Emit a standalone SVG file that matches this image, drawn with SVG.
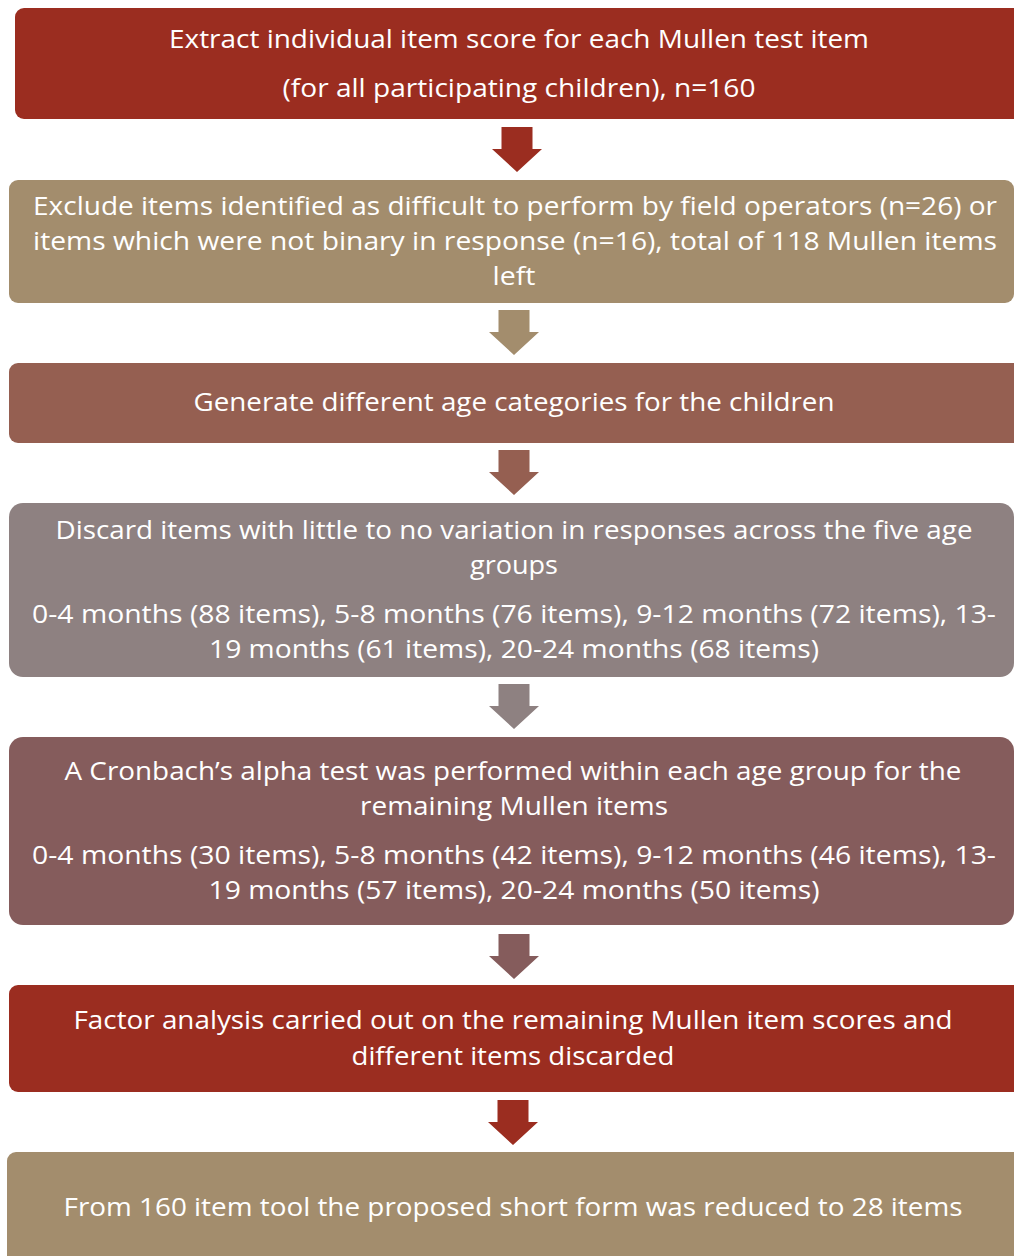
<svg xmlns="http://www.w3.org/2000/svg" width="1014" height="1256" viewBox="0 0 1014 1256">
<style>
.t{font-family:"Open Sans","Noto Sans",sans-serif;font-size:26px;fill:#ffffff;text-anchor:middle}
</style>
<defs>
<path id="arr" d="M-15.5,0 H15.5 V22 H25 L0,45 L-25,22 H-15.5 Z"/>
</defs>
<rect width="1014" height="1256" fill="#ffffff"/>
<g id="connectors">
<use href="#arr" x="517" y="127" fill="#9B2D20"/>
<use href="#arr" x="514" y="310" fill="#A38D6D"/>
<use href="#arr" x="514" y="450" fill="#955F51"/>
<use href="#arr" x="514" y="684" fill="#8E8181"/>
<use href="#arr" x="514" y="934" fill="#855C5C"/>
<use href="#arr" x="513" y="1100" fill="#9B2D20"/>
</g>
<g id="n1">
<rect x="15" y="8" width="1010" height="111" rx="9" fill="#9B2D20"/>
<text class="t" x="519" y="48" textLength="700" lengthAdjust="spacingAndGlyphs">Extract individual item score for each Mullen test item</text>
<text class="t" x="519" y="97" textLength="473" lengthAdjust="spacingAndGlyphs">(for all participating children), n=160</text>
</g>
<g id="n2">
<rect x="9" y="180" width="1005" height="123" rx="9" fill="#A38D6D"/>
<text class="t" x="515" y="215" textLength="964" lengthAdjust="spacingAndGlyphs">Exclude items identified as difficult to perform by field operators (n=26) or</text>
<text class="t" x="515" y="250" textLength="964" lengthAdjust="spacingAndGlyphs">items which were not binary in response (n=16), total of 118 Mullen items</text>
<text class="t" x="514" y="285" textLength="43" lengthAdjust="spacingAndGlyphs">left</text>
</g>
<g id="n3">
<rect x="9" y="363" width="1015" height="80" rx="9" fill="#955F51"/>
<text class="t" x="514" y="411" textLength="641" lengthAdjust="spacingAndGlyphs">Generate different age categories for the children</text>
</g>
<g id="n4">
<rect x="9" y="503" width="1005" height="174" rx="14" fill="#8E8181"/>
<text class="t" x="514" y="539" textLength="917" lengthAdjust="spacingAndGlyphs">Discard items with little to no variation in responses across the five age</text>
<text class="t" x="514" y="574" textLength="88" lengthAdjust="spacingAndGlyphs">groups</text>
<text class="t" x="514" y="623" textLength="964" lengthAdjust="spacingAndGlyphs">0-4 months (88 items), 5-8 months (76 items), 9-12 months (72 items), 13-</text>
<text class="t" x="514" y="658" textLength="610" lengthAdjust="spacingAndGlyphs">19 months (61 items), 20-24 months (68 items)</text>
</g>
<g id="n5">
<rect x="9" y="737" width="1005" height="188" rx="14" fill="#855C5C"/>
<text class="t" x="513" y="780" textLength="897" lengthAdjust="spacingAndGlyphs">A Cronbach’s alpha test was performed within each age group for the</text>
<text class="t" x="514" y="815" textLength="308" lengthAdjust="spacingAndGlyphs">remaining Mullen items</text>
<text class="t" x="514" y="864" textLength="964" lengthAdjust="spacingAndGlyphs">0-4 months (30 items), 5-8 months (42 items), 9-12 months (46 items), 13-</text>
<text class="t" x="514" y="899" textLength="611" lengthAdjust="spacingAndGlyphs">19 months (57 items), 20-24 months (50 items)</text>
</g>
<g id="n6">
<rect x="9" y="985" width="1015" height="107" rx="9" fill="#9B2D20"/>
<text class="t" x="513" y="1029" textLength="879" lengthAdjust="spacingAndGlyphs">Factor analysis carried out on the remaining Mullen item scores and</text>
<text class="t" x="513" y="1065" textLength="323" lengthAdjust="spacingAndGlyphs">different items discarded</text>
</g>
<g id="n7">
<rect x="7" y="1152" width="1017" height="120" rx="9" fill="#A38D6D"/>
<text class="t" x="513" y="1216" textLength="899" lengthAdjust="spacingAndGlyphs">From 160 item tool the proposed short form was reduced to 28 items</text>
</g>
</svg>
